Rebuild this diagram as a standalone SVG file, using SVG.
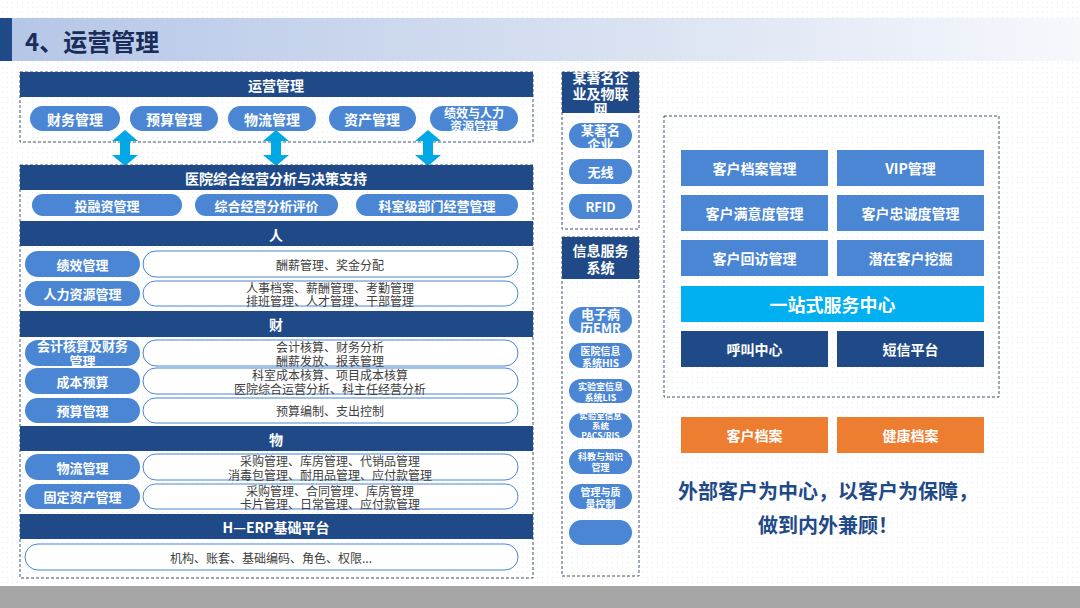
<svg xmlns="http://www.w3.org/2000/svg" width="1080" height="608" viewBox="0 0 1080 608">
<defs>
<pattern id="dots" width="5" height="5" patternUnits="userSpaceOnUse"><circle cx="2.5" cy="2.5" r="0.7" fill="#e9ecf2"/></pattern>
<linearGradient id="tg" x1="0" y1="0" x2="1" y2="0"><stop offset="0" stop-color="#b4c6e7"/><stop offset="0.6" stop-color="#dbe3f2"/><stop offset="1" stop-color="#f6f8fc"/></linearGradient>
<style>
text,tspan{font-family:"Noto Sans CJK SC","Liberation Sans",sans-serif;dominant-baseline:central;text-anchor:middle}
.hd{fill:#1f4a87}
.pl{fill:#4a86d4}
.wp{fill:#fff;stroke:#4a86d4;stroke-width:1}
.dash{fill:none;stroke:#44546a;stroke-width:1;stroke-dasharray:3 2}
.wt{fill:#fff;font-weight:700}
.ds{fill:#404040;font-size:12px}
.arr{fill:#00a8e6}
</style>
</defs>
<rect width="1080" height="608" fill="#fff"/>
<rect width="1080" height="608" fill="url(#dots)"/>
<g id="title">
<rect x="0" y="18" width="1080" height="43" fill="url(#tg)"/>
<rect x="0" y="18" width="12" height="43" fill="#1f4a87"/>
<text x="25" y="40" style="text-anchor:start;font-size:24px;font-weight:700;fill:#1a2d5a">4、运营管理</text>
</g>
<rect x="0" y="586" width="1080" height="22" fill="#a6a6a6"/>

<g id="box-ops">
<rect class="dash" x="20" y="72" width="513" height="70"/>
<rect class="hd" x="20" y="72" width="513" height="25"/>
<text class="wt" x="276" y="84.5" font-size="14">运营管理</text>
</g>
<g id="ops-pills">
<rect class="pl" x="30" y="106" width="90" height="25" rx="12.5"/><text class="wt" x="75" y="118.5" font-size="14">财务管理</text>
<rect class="pl" x="130" y="106" width="88" height="25" rx="12.5"/><text class="wt" x="174" y="118.5" font-size="14">预算管理</text>
<rect class="pl" x="228" y="106" width="88" height="25" rx="12.5"/><text class="wt" x="272" y="118.5" font-size="14">物流管理</text>
<rect class="pl" x="329" y="106" width="87" height="25" rx="12.5"/><text class="wt" x="372" y="118.5" font-size="14">资产管理</text>
<rect class="pl" x="430" y="106" width="88" height="25" rx="12.5"/><text class="wt" font-size="12"><tspan x="474" y="112">绩效与人力</tspan><tspan x="474" y="125">资源管理</tspan></text>
</g>

<g id="connectors">
<polygon class="arr" points="125,130 138,141 130,141 130,155 138,155 125,166 112,155 120,155 120,141 112,141"/>
<polygon class="arr" points="276,130 289,141 281,141 281,155 289,155 276,166 263,155 271,155 271,141 263,141"/>
<polygon class="arr" points="428,130 441,141 433,141 433,155 441,155 428,166 415,155 423,155 423,141 415,141"/>
</g>

<g id="box-analysis">
<rect class="dash" x="20" y="165" width="513" height="413"/>
<rect class="hd" x="20" y="165" width="513" height="25"/>
<text class="wt" x="276" y="177.5" font-size="14">医院综合经营分析与决策支持</text>
<rect class="pl" x="32" y="194" width="150" height="22" rx="11"/><text class="wt" x="107" y="205" font-size="13">投融资管理</text>
<rect class="pl" x="195" y="194" width="143" height="22" rx="11"/><text class="wt" x="266.5" y="205" font-size="13">综合经营分析评价</text>
<rect class="pl" x="356" y="194" width="162" height="22" rx="11"/><text class="wt" x="437" y="205" font-size="13">科室级部门经营管理</text>
</g>

<g id="sec-ren">
<rect class="hd" x="20" y="221" width="513" height="25"/>
<text class="wt" x="276" y="233.5" font-size="14">人</text>
<rect class="pl" x="25" y="251" width="115" height="26" rx="13"/><text class="wt" x="82.5" y="264" font-size="13">绩效管理</text>
<rect class="wp" x="143" y="251" width="375" height="26" rx="13"/><text class="ds" x="330" y="264">酬薪管理、奖金分配</text>
<rect class="pl" x="25" y="281" width="115" height="25" rx="12.5"/><text class="wt" x="82.5" y="293.5" font-size="13">人力资源管理</text>
<rect class="wp" x="143" y="281" width="375" height="25" rx="12.5"/><text class="ds"><tspan x="330" y="286.5">人事档案、薪酬管理、考勤管理</tspan><tspan x="330" y="300">排班管理、人才管理、干部管理</tspan></text>
</g>

<g id="sec-cai">
<rect class="hd" x="20" y="311" width="513" height="26"/>
<text class="wt" x="276" y="324" font-size="14">财</text>
<rect class="pl" x="25" y="340" width="115" height="26" rx="13"/><text class="wt" font-size="13"><tspan x="82.5" y="345">会计核算及财务</tspan><tspan x="82.5" y="360">管理</tspan></text>
<rect class="wp" x="143" y="340" width="375" height="26" rx="13"/><text class="ds"><tspan x="330" y="346">会计核算、财务分析</tspan><tspan x="330" y="360">酬薪发放、报表管理</tspan></text>
<rect class="pl" x="25" y="368" width="115" height="26" rx="13"/><text class="wt" x="82.5" y="381" font-size="13">成本预算</text>
<rect class="wp" x="143" y="368" width="375" height="26" rx="13"/><text class="ds"><tspan x="330" y="374">科室成本核算、项目成本核算</tspan><tspan x="330" y="388">医院综合运营分析、科主任经营分析</tspan></text>
<rect class="pl" x="25" y="398" width="115" height="25" rx="12.5"/><text class="wt" x="82.5" y="410.5" font-size="13">预算管理</text>
<rect class="wp" x="143" y="398" width="375" height="25" rx="12.5"/><text class="ds" x="330" y="410.5">预算编制、支出控制</text>
</g>

<g id="sec-wu">
<rect class="hd" x="20" y="426" width="513" height="25"/>
<text class="wt" x="276" y="438.5" font-size="14">物</text>
<rect class="pl" x="25" y="454" width="115" height="26" rx="13"/><text class="wt" x="82.5" y="467" font-size="13">物流管理</text>
<rect class="wp" x="143" y="454" width="375" height="26" rx="13"/><text class="ds"><tspan x="330" y="460">采购管理、库房管理、代销品管理</tspan><tspan x="330" y="474">消毒包管理、耐用品管理、应付款管理</tspan></text>
<rect class="pl" x="25" y="484" width="115" height="25" rx="12.5"/><text class="wt" x="82.5" y="496.5" font-size="13">固定资产管理</text>
<rect class="wp" x="143" y="484" width="375" height="25" rx="12.5"/><text class="ds"><tspan x="330" y="490">采购管理、合同管理、库房管理</tspan><tspan x="330" y="503">卡片管理、日常管理、应付款管理</tspan></text>
</g>

<g id="sec-erp">
<rect class="hd" x="20" y="514" width="513" height="25"/>
<text class="wt" x="276" y="526.5" font-size="14">H—ERP基础平台</text>
<rect class="wp" x="25" y="544" width="493" height="26" rx="13"/><text class="ds" x="271" y="557">机构、账套、基础编码、角色、权限...</text>
</g>

<g id="box-iot">
<rect class="dash" x="562" y="72" width="77" height="157"/>
<rect class="hd" x="562" y="72" width="77" height="41"/>
<text class="wt" font-size="14"><tspan x="600.5" y="77">某著名企</tspan><tspan x="600.5" y="93">业及物联</tspan><tspan x="600.5" y="108">网</tspan></text>
<rect class="pl" x="569" y="123" width="63" height="25" rx="12.5"/><text class="wt" font-size="13"><tspan x="600.5" y="129">某著名</tspan><tspan x="600.5" y="143">企业</tspan></text>
<rect class="pl" x="569" y="159" width="63" height="25" rx="12.5"/><text class="wt" x="600.5" y="171.5" font-size="13">无线</text>
<rect class="pl" x="569" y="194" width="63" height="25" rx="12.5"/><text class="wt" x="600.5" y="206.5" font-size="13">RFID</text>
</g>

<g id="box-info">
<rect class="dash" x="562" y="237" width="77" height="339"/>
<rect class="hd" x="562" y="237" width="77" height="42"/>
<text class="wt" font-size="14"><tspan x="600.5" y="250">信息服务</tspan><tspan x="600.5" y="267">系统</tspan></text>
<rect class="pl" x="569" y="307" width="63" height="26" rx="13"/><text class="wt" font-size="13"><tspan x="600.5" y="313">电子病</tspan><tspan x="600.5" y="327">历EMR</tspan></text>
<rect class="pl" x="569" y="343" width="63" height="25" rx="12.5"/><text class="wt" font-size="10"><tspan x="600.5" y="350">医院信息</tspan><tspan x="600.5" y="362">系统HIS</tspan></text>
<rect class="pl" x="569" y="379" width="63" height="24" rx="12"/><text class="wt" font-size="9"><tspan x="600.5" y="385.5">实验室信息</tspan><tspan x="600.5" y="396.5">系统LIS</tspan></text>
<rect class="pl" x="569" y="413" width="63" height="25" rx="12.5"/><text class="wt" font-size="8.5"><tspan x="600.5" y="415">实验室信息</tspan><tspan x="600.5" y="425">系统</tspan><tspan x="600.5" y="435">PACS/RIS</tspan></text>
<rect class="pl" x="569" y="449" width="63" height="25" rx="12.5"/><text class="wt" font-size="9"><tspan x="600.5" y="456">科教与知识</tspan><tspan x="600.5" y="467">管理</tspan></text>
<rect class="pl" x="569" y="484" width="63" height="25" rx="12.5"/><text class="wt" font-size="10"><tspan x="600.5" y="491">管理与质</tspan><tspan x="600.5" y="503">量控制</tspan></text>
<rect class="pl" x="569" y="520" width="63" height="25" rx="12.5"/>
</g>

<g id="box-crm">
<rect class="dash" x="664" y="116" width="335" height="281"/>
<rect class="pl" x="681" y="150" width="147" height="36"/><text class="wt" x="754.5" y="168" font-size="14">客户档案管理</text>
<rect class="pl" x="837" y="150" width="147" height="36"/><text class="wt" x="910.5" y="168" font-size="14">VIP管理</text>
<rect class="pl" x="681" y="195" width="147" height="36"/><text class="wt" x="754.5" y="213" font-size="14">客户满意度管理</text>
<rect class="pl" x="837" y="195" width="147" height="36"/><text class="wt" x="910.5" y="213" font-size="14">客户忠诚度管理</text>
<rect class="pl" x="681" y="240" width="147" height="36"/><text class="wt" x="754.5" y="258" font-size="14">客户回访管理</text>
<rect class="pl" x="837" y="240" width="147" height="36"/><text class="wt" x="910.5" y="258" font-size="14">潜在客户挖掘</text>
<rect x="681" y="286" width="303" height="36" fill="#00b0f0"/><text class="wt" x="832.5" y="304" font-size="18">一站式服务中心</text>
<rect class="hd" x="681" y="331" width="147" height="36"/><text class="wt" x="754.5" y="349" font-size="14">呼叫中心</text>
<rect class="hd" x="837" y="331" width="147" height="36"/><text class="wt" x="910.5" y="349" font-size="14">短信平台</text>
</g>

<g id="archives">
<rect x="681" y="417" width="147" height="36" fill="#ed7d31"/><text class="wt" x="754.5" y="435" font-size="14">客户档案</text>
<rect x="837" y="417" width="147" height="36" fill="#ed7d31"/><text class="wt" x="910.5" y="435" font-size="14">健康档案</text>
</g>

<g id="slogan">
<text style="font-size:20px;font-weight:700;fill:#1f4a87"><tspan x="828" y="490">外部客户为中心，以客户为保障，</tspan><tspan x="828" y="524">做到内外兼顾！</tspan></text>
</g>
</svg>
